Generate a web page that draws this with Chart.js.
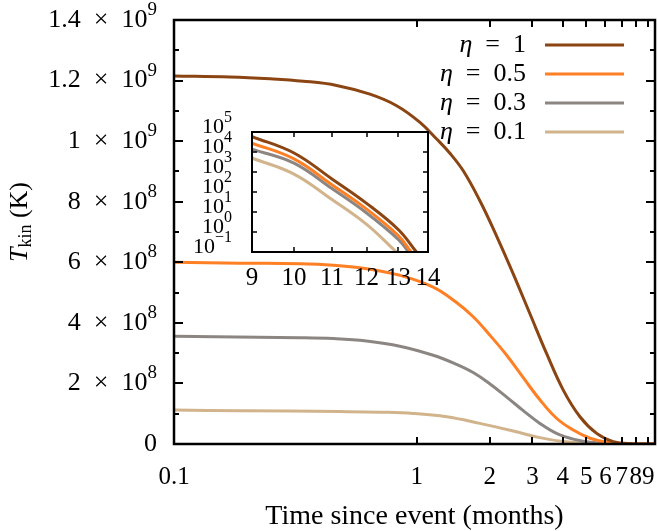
<!DOCTYPE html>
<html>
<head>
<meta charset="utf-8">
<script src="https://cdn.jsdelivr.net/npm/chart.js@4.4.1/dist/chart.umd.min.js"></script>
<style>
  html, body { margin: 0; padding: 0; background: #fff; }
  #wrap { position: relative; width: 658px; height: 531px; }
  #main { position: absolute; left: 0; top: 0; }
  #inset { position: absolute; left: 170px; top: 100px; }
</style>
</head>
<body>
<div id="wrap">
  <canvas id="main" width="658" height="531"></canvas>
  <canvas id="inset" width="270" height="195"></canvas>
</div>
<script>
// eta values and line colours
const etaLabels = ["1", "0.5", "0.3", "0.1"];
const etaColors = ["#8b4513", "#ff7f24", "#8b8682", "#d2b48c"];

// main panel: time since event (months) vs T_kin (K)
const monthsEta1 = [0.1, 0.17, 0.249, 0.341, 0.468, 0.642, 0.827, 1.032, 1.209, 1.371, 1.556, 1.82, 2.14, 2.5, 2.93, 3.43, 4.02, 4.71, 5.52, 6.46, 7.78, 9.6];
const tempEta1   = [12.15e8, 12.12e8, 12.06e8, 11.98e8, 11.84e8, 11.55e8, 11.17e8, 10.62e8, 10.07e8, 9.6e8, 9.02e8, 8.04e8, 6.85e8, 5.62e8, 4.30e8, 2.99e8, 1.78e8, 0.90e8, 0.35e8, 0.08e8, 0.01e8, 0];

const monthsEta05 = [0.1, 0.187, 0.33, 0.454, 0.621, 0.852, 1.17, 1.46, 1.71, 2.0, 2.35, 2.75, 3.22, 3.77, 4.42, 5.18, 6.07, 7.6, 9.6];
const tempEta05   = [6.0e8, 5.97e8, 5.95e8, 5.90e8, 5.79e8, 5.57e8, 5.18e8, 4.67e8, 4.20e8, 3.60e8, 2.93e8, 2.19e8, 1.46e8, 0.85e8, 0.46e8, 0.19e8, 0.06e8, 0.005e8, 0];

const monthsEta03 = [0.1, 0.33, 0.454, 0.621, 0.852, 1.17, 1.46, 1.71, 2.0, 2.35, 2.75, 3.22, 3.77, 4.42, 5.18, 6.9, 9.6];
const tempEta03   = [3.56e8, 3.51e8, 3.48e8, 3.40e8, 3.23e8, 2.93e8, 2.63e8, 2.36e8, 1.99e8, 1.55e8, 1.10e8, 0.68e8, 0.35e8, 0.16e8, 0.06e8, 0.005e8, 0];

const monthsEta01 = [0.1, 0.19, 0.48, 0.706, 0.968, 1.33, 1.82, 2.5, 3.22, 4.02, 5.18, 6.9, 9.6];
const tempEta01   = [1.12e8, 1.10e8, 1.07e8, 1.05e8, 1.01e8, 0.90e8, 0.68e8, 0.43e8, 0.21e8, 0.08e8, 0.02e8, 0.002e8, 0];

// inset: late times, log T_kin
const insetMonthsEta1 = [9, 10, 11, 12, 13, 13.6];
const insetTempEta1   = [5.9e4, 8.9e3, 450, 27, 1.3, 0.1];
const insetMonthsEta05 = [9, 10, 11, 12, 13, 13.42];
const insetTempEta05   = [2.8e4, 4.5e3, 230, 14, 0.65, 0.1];
const insetMonthsEta03 = [9, 10, 11, 12, 13, 13.33];
const insetTempEta03   = [1.4e4, 2.8e3, 148, 8.9, 0.42, 0.1];
const insetMonthsEta01 = [9, 10, 11, 12, 12.93];
const insetTempEta01   = [5.0e3, 790, 42, 2.4, 0.1];

// ticks
const mainXTicks = [0.1, 1, 2, 3, 4, 5, 6, 7, 8, 9];
const insetXTicks = [9, 10, 11, 12, 13, 14];
const insetYTicks = [0.1, 1, 10, 100, 1e3, 1e4, 1e5];

const FONT = "'Liberation Serif', 'Times New Roman', serif";

const pts = (xs, ys) => xs.map((x, i) => ({ x: x, y: ys[i] }));

function makeDatasets(series) {
    return series.map((s, i) => ({
        label: etaLabels[i],
        data: pts(s[0], s[1]),
        borderColor: etaColors[i],
        borderWidth: 3,
        pointRadius: 0,
        fill: false,
        tension: 0.4
    }));
}

// no extra room for overhanging tick labels
function noPad(s) {
    s.paddingLeft = 0; s.paddingRight = 0; s.paddingTop = 0; s.paddingBottom = 0;
}

// "a × 10^b" pieces for the main y axis
function mainYParts(v) {
    const k = Math.round(v / 1e8);
    if (k % 2 !== 0) return null;
    if (k === 0) return [{ t: "0", size: 26 }];
    const exp = k >= 10 ? 9 : 8;
    const mant = Math.round(v / Math.pow(10, exp) * 10) / 10;
    return [{ t: mant + "\u2002×\u200210", size: 26 }, { t: String(exp), size: 19, dy: -10 }];
}

function insetYParts(v) {
    const exp = Math.round(Math.log10(v));
    return [{ t: "10", size: 22 }, { t: exp < 0 ? "−" + (-exp) : String(exp), size: 16, dy: -9 }];
}

// tick labels with real superscripts, right aligned
const supLabelPlugin = {
    id: "supLabels",
    afterDraw(chart, args, opts) {
        const { ctx } = chart;
        const s = chart.scales.y;
        ctx.save();
        ctx.fillStyle = "#000";
        ctx.textBaseline = "middle";
        s.ticks.forEach(t => {
            const parts = opts.parts(t.value);
            if (!parts) return;
            const y = s.getPixelForValue(t.value) + opts.dy;
            let w = 0;
            parts.forEach(p => { ctx.font = p.size + "px " + FONT; p.w = ctx.measureText(p.t).width; w += p.w; });
            let x = opts.right - w;
            parts.forEach(p => {
                ctx.font = p.size + "px " + FONT;
                ctx.fillText(p.t, x, y + (p.dy || 0));
                x += p.w;
            });
        });
        ctx.restore();
    }
};

// white area + black frame + inward ticks on all four sides
const framePlugin = {
    id: "frame",
    beforeDatasetsDraw(chart) {
        const { ctx, chartArea: a } = chart;
        ctx.save();
        ctx.fillStyle = "#fff";
        ctx.fillRect(a.left, a.top, a.right - a.left, a.bottom - a.top);
        ctx.restore();
    },
    afterDatasetsDraw(chart, args, opts) {
        const { ctx, chartArea: a, scales } = chart;
        ctx.save();
        ctx.strokeStyle = "#000";
        ctx.lineWidth = opts.tickWidth;
        ctx.beginPath();
        scales.x.ticks.forEach(t => {
            const px = Math.round(scales.x.getPixelForValue(t.value));
            if (px <= a.left + 1 || px >= a.right - 1) return;
            ctx.moveTo(px, a.bottom); ctx.lineTo(px, a.bottom - opts.xLen);
            ctx.moveTo(px, a.top); ctx.lineTo(px, a.top + opts.xLen);
        });
        scales.y.ticks.forEach(t => {
            const py = Math.round(scales.y.getPixelForValue(t.value));
            if (py <= a.top + 1 || py >= a.bottom - 1) return;
            const len = opts.yLen(t.value);
            ctx.moveTo(a.left, py); ctx.lineTo(a.left + len, py);
            ctx.moveTo(a.right, py); ctx.lineTo(a.right - len, py);
        });
        ctx.stroke();
        ctx.lineWidth = opts.borderWidth;
        ctx.strokeRect(a.left, a.top, a.right - a.left, a.bottom - a.top);
        ctx.restore();
    }
};

// legend at top right: text right aligned, sample line on the right
const legendPlugin = {
    id: "etaLegend",
    afterDraw(chart) {
        const { ctx, chartArea: a } = chart;
        ctx.save();
        ctx.textBaseline = "middle";
        chart.data.datasets.forEach((ds, i) => {
            const y = a.top + 25 + i * 29;
            const xRight = a.right - 129;
            ctx.font = "italic 26px " + FONT;
            const wEta = ctx.measureText("η").width;
            ctx.font = "26px " + FONT;
            const rest = "\u2002=\u2002" + ds.label;
            const wRest = ctx.measureText(rest).width;
            const x0 = xRight - wEta - wRest;
            ctx.fillStyle = "#000";
            ctx.font = "italic 26px " + FONT;
            ctx.fillText("η", x0, y);
            ctx.font = "26px " + FONT;
            ctx.fillText(rest, x0 + wEta, y);
            ctx.strokeStyle = ds.borderColor;
            ctx.lineWidth = 3;
            ctx.beginPath();
            ctx.moveTo(a.right - 110, y);
            ctx.lineTo(a.right - 31, y);
            ctx.stroke();
        });
        ctx.restore();
    }
};

// y title T_kin (K) with subscript
const yTitlePlugin = {
    id: "yTitle",
    afterDraw(chart) {
        const { ctx } = chart;
        ctx.save();
        ctx.translate(20, 222);
        ctx.rotate(-Math.PI / 2);
        ctx.textBaseline = "middle";
        ctx.fillStyle = "#000";
        const parts = [
            { t: "T", f: "italic 26px " + FONT, dy: 0 },
            { t: "kin", f: "18px " + FONT, dy: 6 },
            { t: " (K)", f: "26px " + FONT, dy: 0 }
        ];
        let w = 0;
        parts.forEach(p => { ctx.font = p.f; p.w = ctx.measureText(p.t).width; w += p.w; });
        let x = -w / 2;
        parts.forEach(p => { ctx.font = p.f; ctx.fillText(p.t, x, p.dy); x += p.w; });
        ctx.restore();
    }
};

new Chart(document.getElementById("main"), {
    type: "line",
    data: {
        datasets: makeDatasets([
            [monthsEta1, tempEta1],
            [monthsEta05, tempEta05],
            [monthsEta03, tempEta03],
            [monthsEta01, tempEta01]
        ])
    },
    options: {
        responsive: false,
        devicePixelRatio: 1,
        animation: false,
        layout: { padding: { top: 20, right: 3, left: 0, bottom: 0 } },
        plugins: {
            legend: { display: false },
            tooltip: { enabled: false },
            frame: { tickWidth: 2, borderWidth: 2.5, xLen: 7, yLen: v => (Math.round(v / 1e8) % 2 === 0 ? 9 : 5) },
            supLabels: { parts: mainYParts, right: 157, dy: 0 }
        },
        scales: {
            x: {
                type: "logarithmic",
                min: 0.1,
                max: 9.6,
                afterBuildTicks: s => { s.ticks = mainXTicks.map(v => ({ value: v })); },
                afterFit: s => { s.height = 87; noPad(s); },
                grid: { display: false, drawTicks: false, tickLength: 0 },
                border: { display: false },
                ticks: {
                    autoSkip: false,
                    maxRotation: 0,
                    padding: 18,
                    color: "#000",
                    font: { family: FONT, size: 25 },
                    callback: v => String(v)
                },
                title: {
                    display: true,
                    text: "Time since event (months)",
                    color: "#000",
                    font: { family: FONT, size: 28, lineHeight: 1 },
                    padding: { top: 0, bottom: 0 }
                }
            },
            y: {
                type: "linear",
                min: 0,
                max: 1.4e9,
                ticks: { stepSize: 1e8, autoSkip: false, display: false },
                afterFit: s => { s.width = 174; noPad(s); },
                grid: { display: false, drawTicks: false, tickLength: 0 },
                border: { display: false }
            }
        }
    },
    plugins: [framePlugin, supLabelPlugin, legendPlugin, yTitlePlugin]
});

new Chart(document.getElementById("inset"), {
    type: "line",
    data: {
        datasets: makeDatasets([
            [insetMonthsEta1, insetTempEta1],
            [insetMonthsEta05, insetTempEta05],
            [insetMonthsEta03, insetTempEta03],
            [insetMonthsEta01, insetTempEta01]
        ])
    },
    options: {
        responsive: false,
        devicePixelRatio: 1,
        animation: false,
        layout: { padding: { top: 32, right: 12, left: 0, bottom: 0 } },
        plugins: {
            legend: { display: false },
            tooltip: { enabled: false },
            frame: { tickWidth: 1.5, borderWidth: 2, xLen: 5, yLen: () => 5 },
            supLabels: { parts: insetYParts, right: 62, dy: -5 }
        },
        scales: {
            x: {
                type: "logarithmic",
                min: 9,
                max: 14,
                afterBuildTicks: s => { s.ticks = insetXTicks.map(v => ({ value: v })); },
                afterFit: s => { s.height = 43; noPad(s); },
                grid: { color: "#c8c8c8", lineWidth: 1, drawTicks: false, tickLength: 0 },
                border: { display: false, dash: [2, 3] },
                ticks: {
                    autoSkip: false,
                    maxRotation: 0,
                    padding: 11,
                    color: "#000",
                    font: { family: FONT, size: 25 },
                    callback: v => String(v)
                }
            },
            y: {
                type: "logarithmic",
                min: 0.1,
                max: 1e5,
                afterBuildTicks: s => { s.ticks = insetYTicks.map(v => ({ value: v })); },
                afterFit: s => { s.width = 82; noPad(s); },
                grid: { color: "#c8c8c8", lineWidth: 1, drawTicks: false, tickLength: 0 },
                border: { display: false, dash: [2, 3] },
                ticks: { autoSkip: false, display: false }
            }
        }
    },
    plugins: [framePlugin, supLabelPlugin]
});
</script>
</body>
</html>
